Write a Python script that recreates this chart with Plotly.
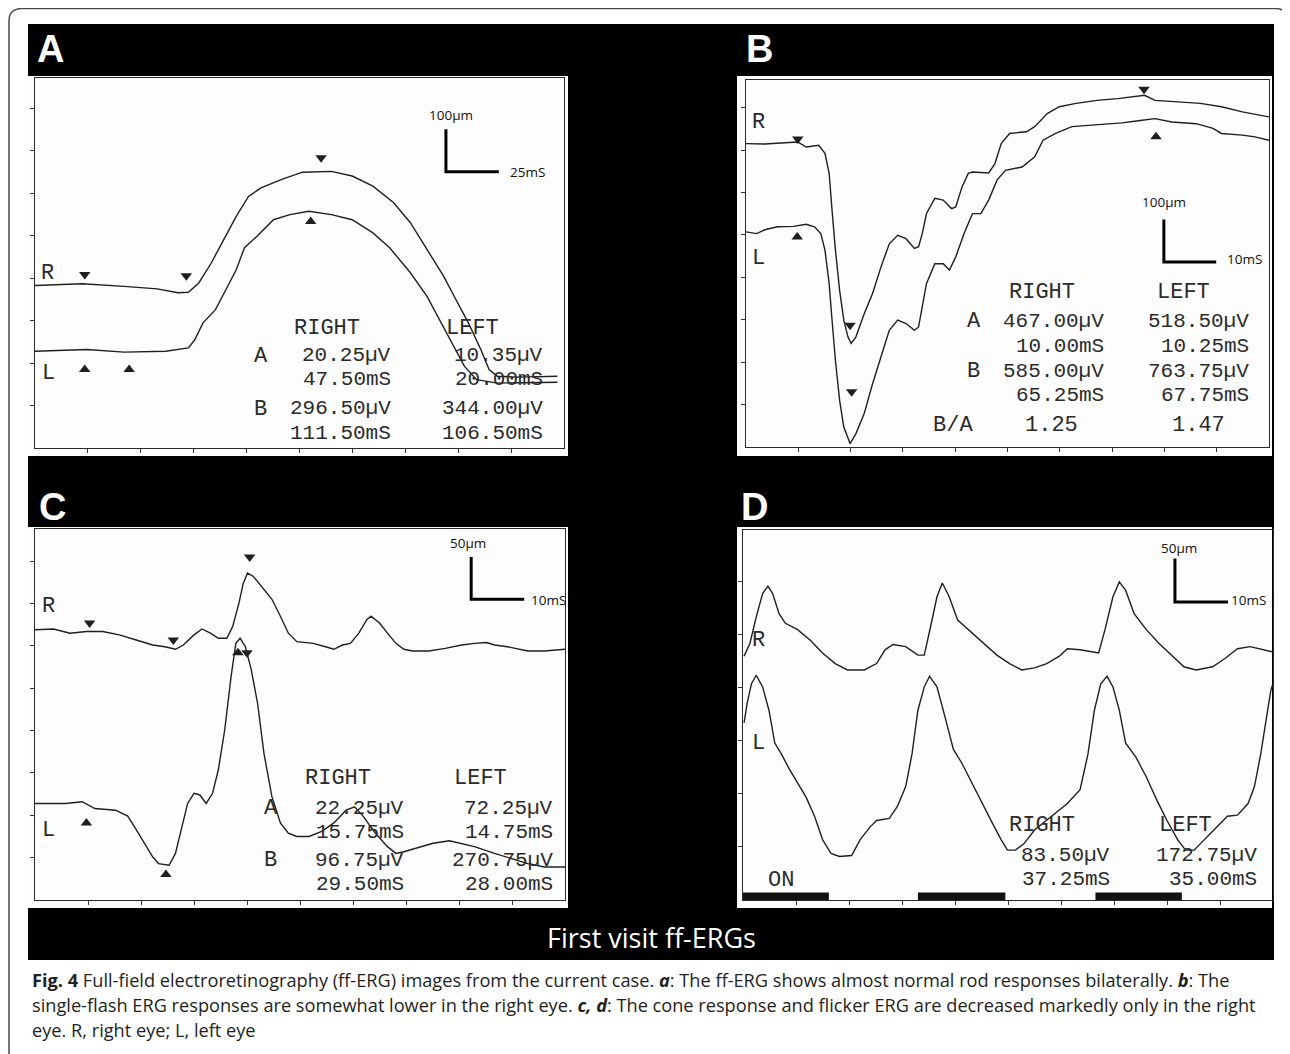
import plotly.graph_objects as go

W, H = 1290, 1054
OFF = 8  # the page body has an 8px margin; compensate so pixel positions match the window


def px(x):
    return (x - OFF) / W


def py(y):
    return 1 - (y - OFF) / H


# ---------------------------------------------------------------- data
# Panel A : rod ERG  (time ms, amplitude µV)
a_r_t = [0, 22.5, 42.1, 57.8, 67.6, 72.5, 77.4, 83.3, 89.2, 95.1, 100.9, 106.8, 116.6, 126.4,
         140.1, 149.9, 159.7, 169.5, 177.4, 185.2, 193.1, 198.9, 204.8, 210.7, 214.6, 218.5, 228.3, 246.9]
a_r_v = [383, 387, 381, 375, 366, 367, 389, 436, 491, 546, 593, 613, 633, 650,
         652, 641, 617, 578, 531, 468, 405, 350, 295, 232, 185, 169, 167, 169]
a_l_t = [0, 24.5, 42.1, 61.7, 72.5, 75.5, 79.4, 85.3, 90.2, 95.1, 99.0, 104.9, 112.7, 120.5,
         129.4, 140.1, 149.9, 159.7, 167.6, 177.4, 185.2, 191.1, 197.0, 202.9, 208.7, 218.5, 246.9]
a_l_v = [228, 232, 226, 228, 236, 255, 295, 326, 373, 420, 472, 499, 538, 550,
         558, 550, 538, 507, 472, 413, 358, 303, 248, 193, 161, 153, 155]
a_r_mk_t = [23.5, 71.5, 135.2]
a_r_mk_v = [409, 406, 684]
a_r_mk_s = ["triangle-down", "triangle-down", "triangle-down"]
a_l_mk_t = [23.5, 44.5, 130.3]
a_l_mk_v = [185, 185, 534]
a_l_mk_s = ["triangle-up", "triangle-up", "triangle-up"]

# Panel B : single-flash ERG
b_r_t = [0, 3.6, 7.5, 9.9, 11.5, 13.9, 15.1, 15.9, 16.4, 17.1, 17.9, 18.7, 19.5, 20.1, 21.0, 22.6,
         24.2, 25.8, 27.4, 29.0, 30.6, 32.2, 33.0, 33.7, 34.5, 36.1, 37.7, 39.3, 40.1, 41.3, 42.5,
         43.3, 46.4, 47.6, 48.8, 50.4, 53.6, 55.2, 57.6, 59.9, 63.1, 67.1, 71.1, 75.0, 76.2, 78.2,
         83.0, 86.9, 90.9, 94.9, 100]
b_r_v = [715, 714, 717, 719, 707, 711, 692, 645, 566, 464, 369, 299, 259, 244, 259, 314,
         362, 424, 479, 499, 491, 468, 472, 503, 550, 586, 582, 562, 566, 613, 645,
         648, 646, 668, 715, 739, 743, 755, 786, 802, 810, 817, 821, 827, 829, 817,
         813, 810, 802, 790, 778]
b_l_t = [0, 2.0, 3.6, 6.0, 9.1, 11.5, 13.1, 14.3, 15.1, 15.9, 16.4, 17.1, 17.9, 18.7, 19.9, 21.0,
         22.6, 24.2, 25.8, 27.4, 29.0, 30.6, 32.2, 33.0, 33.7, 34.5, 36.1, 37.7, 38.9, 40.1, 41.7,
         43.3, 44.9, 46.4, 48.0, 49.6, 52.8, 55.2, 56.8, 59.2, 62.3, 65.5, 68.7, 71.9, 75.0, 78.2,
         81.4, 86.1, 89.3, 90.9, 94.9, 97.3, 100]
b_l_v = [507, 503, 512, 519, 520, 525, 519, 503, 464, 385, 307, 204, 110, 47, 8, 31,
         79, 149, 212, 275, 299, 291, 275, 283, 330, 385, 432, 432, 417, 448, 503,
         550, 550, 582, 629, 652, 660, 684, 723, 739, 755, 758, 762, 764, 769, 774,
         766, 762, 751, 739, 735, 731, 723]
b_r_mk_t = [9.9, 19.9, 76.1]
b_r_mk_v = [726, 287, 843]
b_r_mk_s = ["triangle-down", "triangle-down", "triangle-down"]
b_l_mk_t = [9.8, 20.2, 78.4]
b_l_mk_v = [495, 130, 731]
b_l_mk_s = ["triangle-up", "triangle-down", "triangle-up"]

# Panel C : cone response
c_r_t = [0, 3.5, 6.6, 9.7, 12.8, 15.9, 19.1, 22.2, 24.5, 26.5, 28.0, 30.0, 31.5, 33.1, 34.6, 36.2,
         37.3, 38.5, 39.3, 40.1, 41.2, 43.2, 44.7, 46.3, 47.8, 49.4, 52.5, 54.8, 56.4, 58.0, 59.5,
         61.1, 62.6, 63.4, 65.0, 66.5, 68.1, 69.6, 71.2, 74.3, 77.4, 80.5, 82.9, 85.2, 86.7, 89.1,
         91.4, 93.0, 96.1, 100.0]
c_r_v = [319, 320, 315, 317, 317, 313, 307, 301, 299, 296, 301, 313, 320, 315, 309, 309,
         323, 351, 374, 386, 382, 366, 355, 335, 315, 305, 303, 299, 296, 301, 303,
         315, 331, 335, 327, 315, 303, 296, 294, 294, 297, 301, 303, 304, 301, 299,
         296, 294, 294, 296]
c_l_t = [0, 2.7, 5.8, 8.9, 11.3, 15.2, 17.5, 19.1, 20.6, 22.2, 23.3, 25.3, 26.5, 27.6, 28.8, 30.0,
         31.1, 32.3, 33.5, 34.6, 35.8, 37.0, 37.9, 38.7, 39.7, 40.8, 42.0, 43.2, 44.7, 46.3, 47.8,
         49.4, 51.7, 54.1, 56.4, 58.7, 60.3, 61.9, 64.2, 66.5, 68.1, 69.6, 72.0, 75.1, 78.2, 80.5,
         82.9, 86.7, 89.9, 93.0, 96.1, 100]
c_l_v = [114, 114, 114, 116, 108, 106, 99, 83, 67, 51, 43, 41, 55, 83, 114, 126,
         124, 114, 126, 154, 201, 264, 303, 309, 299, 272, 232, 173, 122, 91, 79,
         75, 75, 81, 91, 106, 110, 99, 79, 63, 55, 57, 61, 67, 70, 67,
         63, 55, 49, 43, 39, 39]
c_r_mk_t = [10.3, 26.1, 40.5]
c_r_mk_v = [327, 307, 405]
c_r_mk_s = ["triangle-down", "triangle-down", "triangle-down"]
c_l_mk_t = [9.7, 24.7, 38.3, 40.0]
c_l_mk_v = [91, 30, 292, 292]
c_l_mk_s = ["triangle-up", "triangle-up", "triangle-up", "triangle-down"]

# Panel D : 30 Hz flicker
d_r_t = [0.2, 1.3, 2.5, 3.7, 4.7, 5.6, 6.8, 8.0, 10.3, 12.7, 15.0, 17.4, 19.7, 22.9, 25.2, 26.8,
         28.3, 30.7, 33.0, 34.2, 35.4, 36.6, 37.6, 38.9, 40.5, 43.2, 45.6, 47.9, 50.3, 52.6, 55.0,
         57.3, 59.7, 61.2, 63.6, 65.9, 67.1, 68.3, 69.8, 71.0, 72.2, 73.8, 76.1, 78.5, 80.8, 83.2,
         85.5, 88.6, 91.0, 93.3, 95.7, 98.0, 100]
d_r_v = [230, 242, 267, 289, 296, 289, 270, 261, 255, 245, 233, 223, 217, 217, 223, 236,
         241, 239, 231, 231, 258, 286, 299, 286, 264, 252, 242, 231, 223, 217, 219,
         223, 230, 237, 236, 234, 233, 255, 286, 300, 292, 270, 255, 242, 231, 220,
         217, 220, 228, 237, 239, 236, 234]
d_l_t = [0.2, 0.8, 1.6, 2.5, 3.7, 4.9, 6.0, 7.2, 8.8, 10.3, 11.9, 13.5, 15.0, 16.6, 18.2, 20.5,
         22.1, 24.0, 25.2, 27.6, 29.1, 30.7, 31.9, 33.0, 34.2, 35.2, 36.6, 38.1, 39.7, 41.3, 43.2,
         45.2, 47.1, 48.7, 49.9, 51.4, 53.0, 55.0, 56.5, 58.1, 61.2, 63.6, 65.1, 66.3, 67.5, 68.7,
         69.8, 71.0, 72.2, 74.1, 76.1, 78.1, 80.0, 82.0, 83.5, 85.1, 87.1, 89.4, 91.4, 93.3, 95.3,
         96.5, 97.7, 98.7, 99.6, 100]
d_l_v = [167, 186, 204, 212, 201, 179, 148, 138, 123, 110, 97, 79, 57, 44, 41, 42,
         57, 69, 75, 77, 88, 107, 138, 179, 201, 211, 201, 173, 142, 129, 110,
         91, 72, 57, 47, 47, 53, 66, 72, 79, 91, 104, 138, 179, 204, 211,
         201, 179, 148, 135, 116, 94, 75, 57, 47, 47, 57, 69, 79, 80, 91,
         107, 138, 170, 198, 204]
d_stim_on = [0, 33.0, 66.5]
d_stim_off = [16.2, 49.5, 82.8]
d_stim_height = 7

# tick marks (one per division)
a_xticks = [25, 50, 75, 100, 125, 150, 175, 200, 225]
a_yticks = [100, 200, 300, 400, 500, 600, 700, 800]
b_xticks = [10, 20, 30, 40, 50, 60, 70, 80, 90]
b_yticks = [100, 200, 300, 400, 500, 600, 700, 800]
c_xticks = [10, 20, 30, 40, 50, 60, 70, 80, 90]
c_yticks = [50, 100, 150, 200, 250, 300, 350, 400]
d_xticks = [10, 20, 30, 40, 50, 60, 70, 80, 90]
d_yticks = [50, 100, 150, 200, 250, 300]

# scale bars: corner (t, v), horizontal length, vertical length, labels
scale_origin = {"A": (194.2, 651), "B": (79.9, 436), "C": (82.3, 355), "D": (81.5, 281)}
scale_len = {"A": (25, 100), "B": (10, 100), "C": (10, 50), "D": (10, 41)}
scale_labels = {"A": ("100µm", "25mS"), "B": ("100µm", "10mS"),
                "C": ("50µm", "10mS"), "D": ("50µm", "10mS")}

# printed result tables (amplitude, latency) per component
a_table = {"RIGHT": [("20.25µV", "47.50mS"), ("296.50µV", "111.50mS")],
           "LEFT": [("10.35µV", "20.00mS"), ("344.00µV", "106.50mS")]}
b_table = {"RIGHT": [("467.00µV", "10.00mS"), ("585.00µV", "65.25mS")],
           "LEFT": [("518.50µV", "10.25mS"), ("763.75µV", "67.75mS")]}
b_ratio = {"RIGHT": "1.25", "LEFT": "1.47"}
c_table = {"RIGHT": [("22.25µV", "15.75mS"), ("96.75µV", "29.50mS")],
           "LEFT": [("72.25µV", "14.75mS"), ("270.75µV", "28.00mS")]}
d_table = {"RIGHT": [("83.50µV", "37.25mS")],
           "LEFT": [("172.75µV", "35.00mS")]}

panel_letters = ["A", "B", "C", "D"]
band_title = "First visit ff-ERGs"
caption_lines = [
    "<b>Fig. 4</b> Full-field electroretinography (ff-ERG) images from the current case. "
    "<b><i>a</i></b>: The ff-ERG shows almost normal rod responses bilaterally. <b><i>b</i></b>: The",
    "single-flash ERG responses are somewhat lower in the right eye. <b><i>c, d</i></b>: "
    "The cone response and flicker ERG are decreased markedly only in the right",
    "eye. R, right eye; L, left eye",
]

# ---------------------------------------------------------------- figure
INK = "#1f1f1f"
PRN = "#2b2b2b"
MONO = "Liberation Mono"
MONO_SIZE = 22
VAL_SIZE = 21

fig = go.Figure()

# panel geometry in pixels (frame boxes)
frames = {
    "A": dict(ax="", x=(35, 564), y=(78, 448), xr=[0, 250], yr=[0, 872], xt=a_xticks, yt=a_yticks),
    "B": dict(ax="2", x=(746, 1269), y=(80, 447), xr=[0, 100], yr=[0, 865], xt=b_xticks, yt=b_yticks),
    "C": dict(ax="3", x=(35, 565), y=(529, 900), xr=[0, 100], yr=[0, 438], xt=c_xticks, yt=c_yticks),
    "D": dict(ax="4", x=(743, 1273), y=(530, 900), xr=[0, 100], yr=[0, 349], xt=d_xticks, yt=d_yticks),
}

layout_axes = {}
for key, f in frames.items():
    s = f["ax"]
    common = dict(showgrid=False, zeroline=False, showticklabels=False, ticks="outside",
                  ticklen=4, tickwidth=1.3, tickcolor="#333", showline=True, mirror=True,
                  linecolor="#2a2a2a", linewidth=1.4, fixedrange=True)
    layout_axes["xaxis" + s] = dict(common, domain=[px(f["x"][0]), px(f["x"][1])],
                                    range=f["xr"], tickvals=f["xt"], anchor="y" + s)
    layout_axes["yaxis" + s] = dict(common, domain=[py(f["y"][1]), py(f["y"][0])],
                                    range=f["yr"], tickvals=f["yt"], anchor="x" + s)

curves = {
    "A": [(a_r_t, a_r_v), (a_l_t, a_l_v)],
    "B": [(b_r_t, b_r_v), (b_l_t, b_l_v)],
    "C": [(c_r_t, c_r_v), (c_l_t, c_l_v)],
    "D": [(d_r_t, d_r_v), (d_l_t, d_l_v)],
}
markers = {
    "A": [(a_r_mk_t, a_r_mk_v, a_r_mk_s), (a_l_mk_t, a_l_mk_v, a_l_mk_s)],
    "B": [(b_r_mk_t, b_r_mk_v, b_r_mk_s), (b_l_mk_t, b_l_mk_v, b_l_mk_s)],
    "C": [(c_r_mk_t, c_r_mk_v, c_r_mk_s), (c_l_mk_t, c_l_mk_v, c_l_mk_s)],
    "D": [],
}

for key, f in frames.items():
    s = f["ax"]
    for t, v in curves[key]:
        fig.add_trace(go.Scatter(x=t, y=v, mode="lines", xaxis="x" + s, yaxis="y" + s,
                                 line=dict(color=INK, width=1.4), hoverinfo="skip",
                                 showlegend=False))
    for t, v, sym in markers[key]:
        fig.add_trace(go.Scatter(x=t, y=v, mode="markers", xaxis="x" + s, yaxis="y" + s,
                                 marker=dict(symbol=sym, size=10, color=INK),
                                 hoverinfo="skip", showlegend=False))
    # scale bar
    (t0, v0), (lt, lv) = scale_origin[key], scale_len[key]
    fig.add_trace(go.Scatter(x=[t0, t0, t0 + lt], y=[v0 + lv, v0, v0], mode="lines",
                             xaxis="x" + s, yaxis="y" + s, line=dict(color="black", width=3),
                             hoverinfo="skip", showlegend=False, cliponaxis=False))

shapes = []
# outer rounded frame
shapes.append(dict(type="path", xref="paper", yref="paper", layer="below",
                   path=f"M {px(9)},{py(1070)} L {px(9)},{py(21)} Q {px(9)},{py(8.5)} {px(22)},{py(8.5)} "
                        f"L {px(1275)},{py(8.5)} Q {px(1288)},{py(8.5)} {px(1288)},{py(21)} L {px(1288)},{py(1070)}",
                   line=dict(color="#4a4a4a", width=1.5)))
# black band
shapes.append(dict(type="rect", xref="paper", yref="paper", layer="below",
                   x0=px(28), x1=px(1274), y0=py(960), y1=py(24),
                   fillcolor="black", line=dict(width=0)))
# white panels
for (x0, x1, y0, y1) in [(28, 568, 76, 456), (737, 1272, 76, 456),
                         (28, 568, 527, 908), (737, 1272, 527, 908)]:
    shapes.append(dict(type="rect", xref="paper", yref="paper", layer="below",
                       x0=px(x0), x1=px(x1), y0=py(y1), y1=py(y0),
                       fillcolor="#fdfdfd", line=dict(width=0)))
# stimulus bars in panel D
for on, off in zip(d_stim_on, d_stim_off):
    shapes.append(dict(type="rect", xref="x4", yref="y4", x0=on, x1=off, y0=-2, y1=d_stim_height,
                       fillcolor="#111", line=dict(width=0)))

annotations = []


def ann(text, x, y, size=MONO_SIZE, font=MONO, color=PRN, xanchor="left", yanchor="middle"):
    annotations.append(dict(text=text, x=px(x), y=py(y), xref="paper", yref="paper",
                            showarrow=False, xanchor=xanchor, yanchor=yanchor,
                            font=dict(family=font, size=size, color=color)))


def pair(top, bottom, x_right, y_top, y_bottom):
    """Two stacked printer lines (amplitude over latency), right aligned."""
    ann(top, x_right, y_top, size=VAL_SIZE, xanchor="right")
    ann(bottom, x_right, y_bottom, size=VAL_SIZE, xanchor="right")


# panel letters
for letter, (x, y) in zip(panel_letters, [(35, 49), (744, 49), (37, 507), (739, 507)]):
    ann(f"<b>{letter}</b>", x, y, size=38, font="Liberation Sans", color="white")

# scale-bar labels
sb_pos = {"A": ((427, 115), (508, 172)), "B": ((1140, 202), (1225, 259)),
          "C": ((448, 543), (529, 600)), "D": ((1159, 548), (1229, 600))}
for key, ((xv, yv), (xh, yh)) in sb_pos.items():
    ann(scale_labels[key][0], xv, yv, size=13.5, font="Open Sans", color="#111")
    ann(scale_labels[key][1], xh, yh, size=13.5, font="Open Sans", color="#111")

# R / L labels
for x, y, t in [(39, 273, "R"), (40, 373, "L"), (750, 122, "R"), (750, 258, "L"),
                (40, 606, "R"), (40, 830, "L"), (750, 640, "R"), (750, 743, "L")]:
    ann(t, x, y)

# Panel A table
ann("RIGHT", 292, 328); ann("LEFT", 444, 328)
ann("A", 252, 356); ann("B", 252, 410)
for (yt, yb), r, l in zip([(355, 379), (409, 433)], a_table["RIGHT"], a_table["LEFT"]):
    pair(r[0], r[1], 393, yt, yb)
    pair(l[0], l[1], 545, yt, yb)

# Panel B table
ann("RIGHT", 1007, 292); ann("LEFT", 1155, 292)
ann("A", 965, 322); ann("B", 965, 371); ann("B/A", 931, 425)
for (yt, yb), r, l in zip([(322, 346), (371, 395)], b_table["RIGHT"], b_table["LEFT"]):
    pair(r[0], r[1], 1106, yt, yb)
    pair(l[0], l[1], 1251, yt, yb)
ann(b_ratio["RIGHT"], 1023, 425)
ann(b_ratio["LEFT"], 1170, 425)

# Panel C table
ann("RIGHT", 303, 778); ann("LEFT", 452, 778)
ann("A", 262, 808); ann("B", 262, 860)
for (yt, yb), r, l in zip([(808, 832), (860, 884)], c_table["RIGHT"], c_table["LEFT"]):
    pair(r[0], r[1], 406, yt, yb)
    pair(l[0], l[1], 555, yt, yb)

# Panel D table
ann("RIGHT", 1007, 825); ann("LEFT", 1157, 825)
for (yt, yb), r, l in zip([(855, 879)], d_table["RIGHT"], d_table["LEFT"]):
    pair(r[0], r[1], 1112, yt, yb)
    pair(l[0], l[1], 1259, yt, yb)
ann("ON", 766, 880)

# band title
ann(band_title, 651, 937, size=27, font="Open Sans", color="white", xanchor="center")

# caption
for line, y in zip(caption_lines, [980, 1005, 1030]):
    ann(line, 30, y, size=18.2, font="Open Sans", color="#231f20")

fig.update_layout(width=W, height=H, margin=dict(l=0, r=0, t=0, b=0),
                  paper_bgcolor="white", plot_bgcolor="rgba(0,0,0,0)",
                  shapes=shapes, annotations=annotations, showlegend=False,
                  **layout_axes)

fig.write_html("out.html")
